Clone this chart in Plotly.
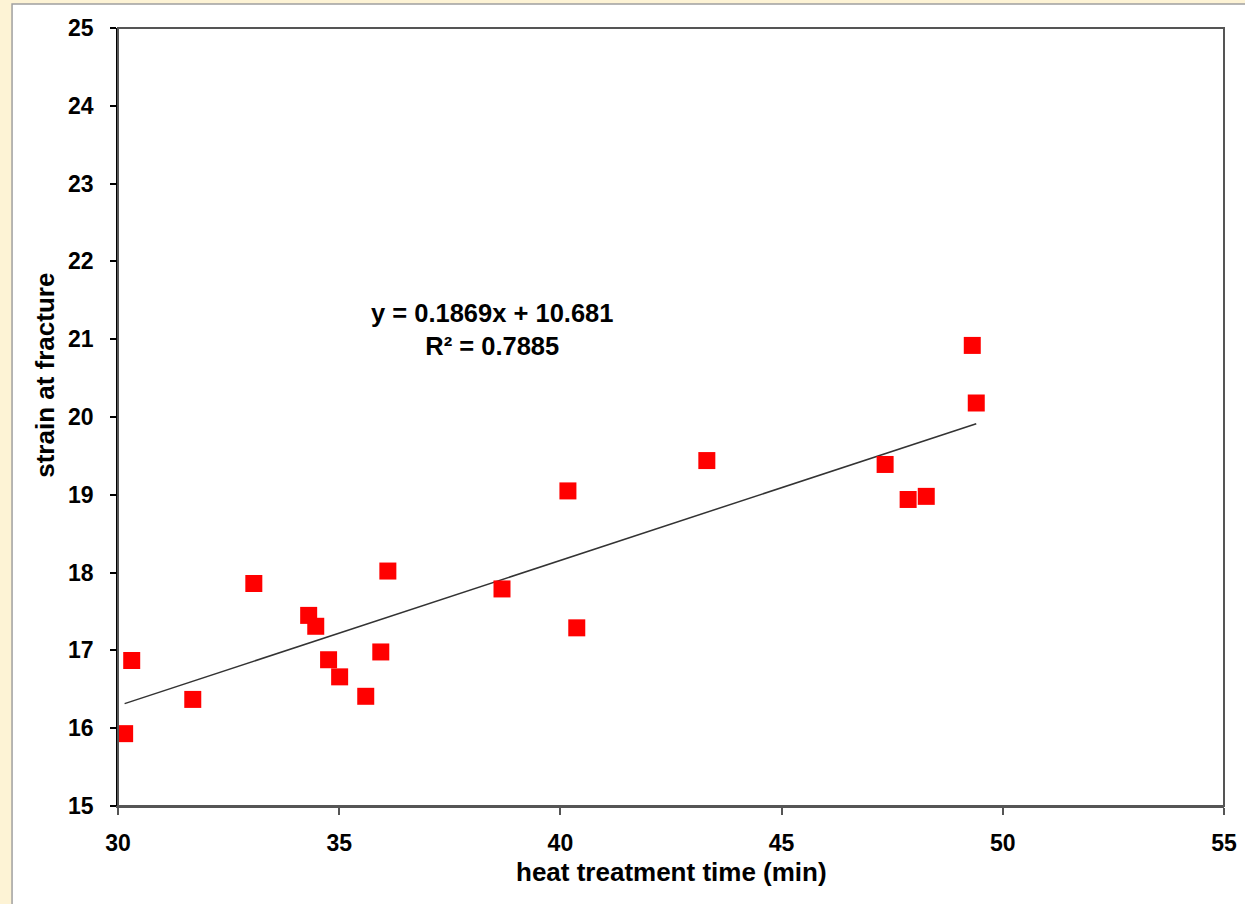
import plotly.graph_objects as go

heat_time = [30.15, 30.31, 31.69, 33.07, 34.31, 34.47, 34.76, 35.01, 35.60, 35.94,
             36.10, 38.68, 40.17, 40.37, 43.31, 47.34, 47.86, 48.27, 49.31, 49.40]
strain = [15.93, 16.87, 16.37, 17.86, 17.45, 17.31, 16.88, 16.66, 16.41, 16.98,
          18.02, 17.79, 19.05, 17.29, 19.44, 19.39, 18.94, 18.98, 20.92, 20.18]
slope = 0.1869
intercept = 10.681
equation_text = "y = 0.1869x + 10.681<br>R\u00b2 = 0.7885"
x_title = "heat treatment time (min)"
y_title = "strain at fracture"
x_ticks = [30, 35, 40, 45, 50, 55]
y_ticks = [15, 16, 17, 18, 19, 20, 21, 22, 23, 24, 25]

FONT = "Liberation Sans, Arial, sans-serif"
TICK_SIZE = 23
TITLE_SIZE = 26
ANNOT_SIZE = 25.5

fig = go.Figure()
x_fit = [min(heat_time), max(heat_time)]
y_fit = [slope * v + intercept for v in x_fit]
fig.add_trace(go.Scatter(x=x_fit, y=y_fit, mode="lines",
                         line=dict(color="#333333", width=1.5),
                         hoverinfo="skip", showlegend=False))
fig.add_trace(go.Scatter(x=heat_time, y=strain, mode="markers",
                         marker=dict(symbol="square", size=17, color="#ff0000",
                                     line=dict(width=0)),
                         showlegend=False))

fig.add_annotation(x=38.45, y=21.12, xref="x", yref="y", text="<b>" + equation_text + "</b>",
                   showarrow=False, font=dict(family=FONT, size=ANNOT_SIZE, color="black"),
                   align="center")
# axis titles
fig.add_annotation(x=0.5, y=-0.0848, xref="paper", yref="paper", text="<b>" + x_title + "</b>",
                   showarrow=False, font=dict(family=FONT, size=TITLE_SIZE, color="black"),
                   xanchor="center", yanchor="middle")
fig.add_annotation(x=-0.066, y=0.553, xref="paper", yref="paper", text="<b>" + y_title + "</b>",
                   showarrow=False, textangle=-90,
                   font=dict(family=FONT, size=TITLE_SIZE, color="black"),
                   xanchor="center", yanchor="middle")

# white chart area over yellow page
fig.add_shape(type="rect", xref="paper", yref="paper",
              x0=-0.0958, x1=1.05, y0=-0.2, y1=1.0308,
              fillcolor="white", line=dict(color="#a0a0a0", width=1.5), layer="below")
# plot-area frame (gray top/right)
fig.add_shape(type="rect", xref="paper", yref="paper", x0=0, x1=1, y0=0, y1=1,
              line=dict(color="#555555", width=2), fillcolor="rgba(0,0,0,0)", layer="above")

fig.update_layout(
    width=1245, height=904,
    paper_bgcolor="#fdf3d5", plot_bgcolor="white",
    margin=dict(l=118, r=21, t=28, b=98),
    font=dict(family=FONT, size=TICK_SIZE, color="black"),
    xaxis=dict(range=[30, 55], tickvals=x_ticks, ticktext=[f"<b>{v}</b>" for v in x_ticks],
               automargin=False,
               showgrid=False, zeroline=False, showline=True, linecolor="#555555", linewidth=2,
               ticks="outside", ticklen=7, tickcolor="#555555", tickwidth=1.5,
               ticklabelstandoff=8,
               tickfont=dict(family=FONT, size=TICK_SIZE, color="black")),
    yaxis=dict(range=[15, 25], tickvals=y_ticks, ticktext=[f"<b>{v}</b>" for v in y_ticks],
               automargin=False,
               showgrid=False, zeroline=False, showline=True, linecolor="black", linewidth=1.5,
               ticks="outside", ticklen=6, tickcolor="black", tickwidth=1.5,
               ticklabelstandoff=12,
               tickfont=dict(family=FONT, size=TICK_SIZE, color="black")),
)

fig.write_html("out.html", config={"displayModeBar": False},
               post_script="document.body.style.margin='0';document.body.style.background='#fdf3d5';")
